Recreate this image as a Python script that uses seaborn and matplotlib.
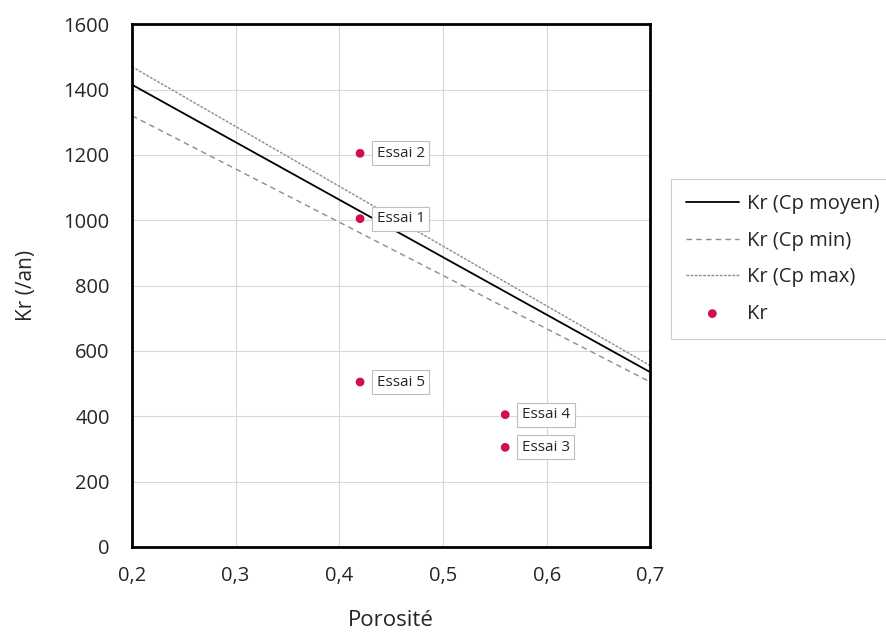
import matplotlib
matplotlib.use("Agg")
import matplotlib.pyplot as plt
import seaborn as sns
import pandas as pd

porosite_lignes = [0.2, 0.7]
kr_moyen = [1415, 535]
kr_min = [1320, 505]
kr_max = [1470, 555]

essais = ["Essai 1", "Essai 2", "Essai 3", "Essai 4", "Essai 5"]
porosite_essais = [0.42, 0.42, 0.56, 0.56, 0.42]
kr_essais = [1005, 1205, 305, 405, 505]

x_ticks = [0.2, 0.3, 0.4, 0.5, 0.6, 0.7]
x_tick_labels = ["0,2", "0,3", "0,4", "0,5", "0,6", "0,7"]
y_ticks = [0, 200, 400, 600, 800, 1000, 1200, 1400, 1600]

sns.set_theme(style="white")
plt.rcParams['font.family'] = ['Open Sans', 'DejaVu Sans']

fig = plt.figure(figsize=(8.86, 6.39), dpi=100)
ax = fig.add_axes([0.149, 0.144, 0.585, 0.818])

ax.grid(True, color="#d9d9d9", linewidth=0.8)
ax.set_axisbelow(True)

sns.lineplot(x=porosite_lignes, y=kr_moyen, ax=ax, color="black", linewidth=1.3, label="Kr (Cp moyen)")
sns.lineplot(x=porosite_lignes, y=kr_min, ax=ax, color="#8c8c8c", linewidth=1.0, linestyle=(0, (4, 3)), label="Kr (Cp min)")
sns.lineplot(x=porosite_lignes, y=kr_max, ax=ax, color="#8c8c8c", linewidth=1.0, linestyle=(0, (2, 1)), label="Kr (Cp max)")

df = pd.DataFrame({"Porosité": porosite_essais, "Kr": kr_essais, "Essai": essais})
sns.scatterplot(data=df, x="Porosité", y="Kr", ax=ax, color="#d0104c", s=40, edgecolor="none", label="Kr", zorder=5)

for name, xv, yv in zip(essais, porosite_essais, kr_essais):
    ax.annotate(name, (xv, yv), xytext=(12, 0), textcoords="offset points",
                ha="left", va="center", fontsize=11,
                bbox=dict(boxstyle="square,pad=0.3", fc="white", ec="#bfbfbf", lw=0.8))

ax.set_xlim(0.2, 0.7)
ax.set_ylim(0, 1600)
ax.set_xticks(x_ticks)
ax.set_xticklabels(x_tick_labels)
ax.set_yticks(y_ticks)
ax.tick_params(labelsize=14.5, colors="#262626", direction="in", length=4, width=1)
ax.tick_params(axis="x", pad=14)
ax.tick_params(axis="y", pad=16)
for s in ax.spines.values():
    s.set_color("black")
    s.set_linewidth(2)

ax.set_xlabel("Porosité", fontsize=16, color="#262626", labelpad=17)
ax.set_ylabel("Kr (/an)", fontsize=15, color="#262626", labelpad=19)

leg = ax.legend(loc="upper left", bbox_to_anchor=(1.04, 0.7036), frameon=True, fontsize=14.5,
                handlelength=2.6, handletextpad=0.4, borderpad=0.75, labelspacing=0.82,
                borderaxespad=0, fancybox=False, edgecolor="#bfbfbf")
leg.get_frame().set_linewidth(0.8)

fig.savefig("out.png", dpi=100)
